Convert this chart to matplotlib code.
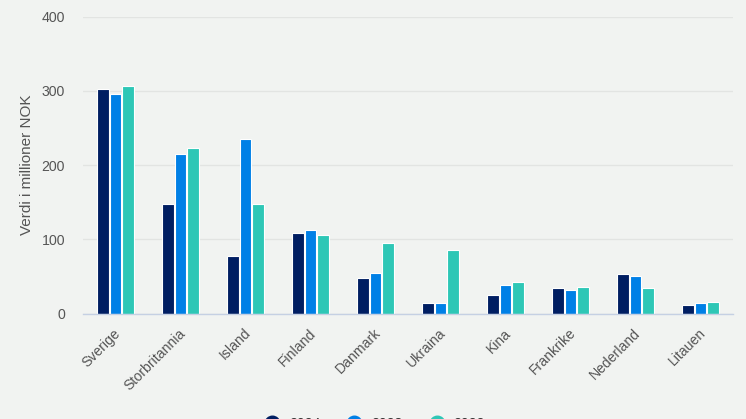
import numpy as np
import matplotlib
matplotlib.use("Agg")
import matplotlib.pyplot as plt
from matplotlib.lines import Line2D
from matplotlib.transforms import ScaledTranslation

plt.rcParams['font.family'] = ['Liberation Sans', 'DejaVu Sans']

countries = ["Sverige", "Storbritannia", "Island", "Finland", "Danmark",
             "Ukraina", "Kina", "Frankrike", "Nederland", "Litauen"]
v2024 = [302, 147, 77, 109, 48, 14, 25, 35, 53, 11]
v2023 = [296, 215, 235, 112, 55, 14, 38, 31, 51, 14]
v2022 = [306, 223, 147, 106, 95, 85, 43, 36, 35, 16]
years = ["2024", "2023", "2022"]
colors = ["#001e62", "#0080e6", "#2ec7b6"]
yticks = [0, 100, 200, 300, 400]

bg = "#f1f3f1"
W, H = 746, 419
fig = plt.figure(figsize=(W / 100, H / 100), dpi=100, facecolor=bg)
ax = fig.add_axes([83 / W, 1 - 313.5 / H, 650 / W, 297 / H], facecolor=bg)

x = np.arange(len(countries))
bar_w = 0.175
step = 0.195
for i, vals in enumerate([v2024, v2023, v2022]):
    ax.bar(x + (i - 1) * step, vals, bar_w, color=colors[i],
           edgecolor="white", linewidth=0.8, zorder=3)

ax.set_xlim(-0.5, 9.5)
ax.set_ylim(0, 400)
ax.set_yticks(yticks)
ax.set_xticks(x)
ax.set_xticklabels(countries, rotation=45, ha="right", rotation_mode="anchor")
ax.tick_params(axis="both", length=0, labelsize=10.2, labelcolor="#555555")
ax.tick_params(axis="x", pad=9, labelsize=10.1)
ax.tick_params(axis="y", pad=13)
# labels sit a little left of the bar group centre
shift = ScaledTranslation(-2 / 100, 0, fig.dpi_scale_trans)
for tl in ax.get_xticklabels():
    tl.set_transform(tl.get_transform() + shift)
ax.grid(axis="y", color="#e2e4e2", linewidth=1, zorder=0)
for s in ["top", "right", "left"]:
    ax.spines[s].set_visible(False)
ax.spines["bottom"].set_color("#c5d0e3")
ax.spines["bottom"].set_linewidth(1)
ax.spines["bottom"].set_zorder(4)
ax.set_ylabel("Verdi i millioner NOK", fontsize=11, color="#555555")
ax.yaxis.set_label_coords(-0.0747, 0.5, transform=ax.transAxes)

handles = [Line2D([], [], marker="o", linestyle="none", markersize=10.5,
                  color=c) for c in colors]
fig.legend(handles, years, loc="center", bbox_to_anchor=(371.5 / W, 1 - 424 / H),
           ncol=3, frameon=False, fontsize=10.2, columnspacing=1.4,
           handletextpad=0.2, labelcolor="#333333")

fig.savefig("out.png", dpi=100, facecolor=bg)
